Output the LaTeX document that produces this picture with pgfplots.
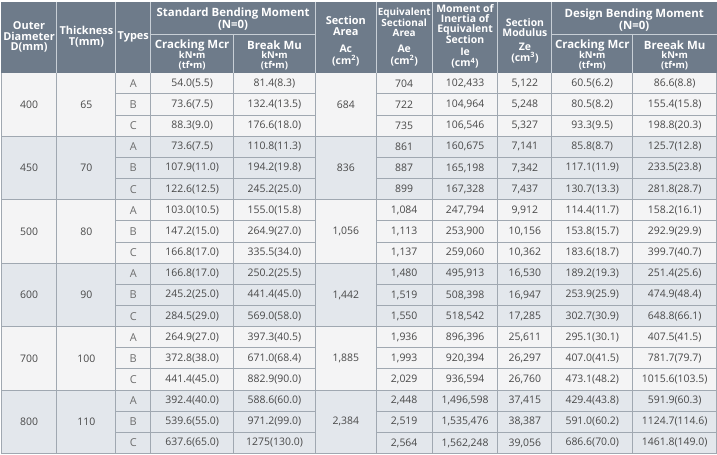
\documentclass[border=0pt]{standalone}
\usepackage{fontspec}
\setmainfont{Open Sans}
\usepackage{pgfplots}
\usepackage{pgfplotstable}
\pgfplotsset{compat=1.18}

\definecolor{hdr}{RGB}{110,123,138}
\definecolor{hdrline}{RGB}{200,207,214}
\definecolor{gridc}{RGB}{160,168,177}
\definecolor{rowlight}{RGB}{244,244,245}
\definecolor{rowdark}{RGB}{227,231,236}
\definecolor{txt}{RGB}{72,72,72}

% rows: y centre, type, standard Mcr/Mu, Ae, Ie, Ze, design Mcr/Mu
\pgfplotstableread{
y type mcr mu ae ie ze dmcr dmu
83.6 A 54.0(5.5) 81.4(8.3) 704 102,433 5,122 60.5(6.2) 86.6(8.8)
104.8 B 73.6(7.5) 132.4(13.5) 722 104,964 5,248 80.5(8.2) 155.4(15.8)
126.0 C 88.3(9.0) 176.6(18.0) 735 106,546 5,327 93.3(9.5) 198.8(20.3)
147.2 A 73.6(7.5) 110.8(11.3) 861 160,675 7,141 85.8(8.7) 125.7(12.8)
168.4 B 107.9(11.0) 194.2(19.8) 887 165,198 7,342 117.1(11.9) 233.5(23.8)
189.6 C 122.6(12.5) 245.2(25.0) 899 167,328 7,437 130.7(13.3) 281.8(28.7)
210.8 A 103.0(10.5) 155.0(15.8) 1,084 247,794 9,912 114.4(11.7) 158.2(16.1)
232.0 B 147.2(15.0) 264.9(27.0) 1,113 253,900 10,156 153.8(15.7) 292.9(29.9)
253.2 C 166.8(17.0) 335.5(34.0) 1,137 259,060 10,362 183.6(18.7) 399.7(40.7)
274.4 A 166.8(17.0) 250.2(25.5) 1,480 495,913 16,530 189.2(19.3) 251.4(25.6)
295.6 B 245.2(25.0) 441.4(45.0) 1,519 508,398 16,947 253.9(25.9) 474.9(48.4)
316.8 C 284.5(29.0) 569.0(58.0) 1,550 518,542 17,285 302.7(30.9) 648.8(66.1)
338.0 A 264.9(27.0) 397.3(40.5) 1,936 896,396 25,611 295.1(30.1) 407.5(41.5)
359.2 B 372.8(38.0) 671.0(68.4) 1,993 920,394 26,297 407.0(41.5) 781.7(79.7)
380.4 C 441.4(45.0) 882.9(90.0) 2,029 936,594 26,760 473.1(48.2) 1015.6(103.5)
401.6 A 392.4(40.0) 588.6(60.0) 2,448 1,496,598 37,415 429.4(43.8) 591.9(60.3)
422.8 B 539.6(55.0) 971.2(99.0) 2,519 1,535,476 38,387 591.0(60.2) 1124.7(114.6)
444.0 C 637.6(65.0) 1275(130.0) 2,564 1,562,248 39,056 686.6(70.0) 1461.8(149.0)
}\rows

% merged cells, one per diameter group
\pgfplotstableread{
y d t ac
104.8 400 65 684
168.4 450 70 836
232.0 500 80 1,056
295.6 600 90 1,442
359.2 700 100 1,885
422.8 800 110 2,384
}\groups

\pgfplotsset{
  cell/.style={only marks, mark=*, mark size=0pt,
    mark options={draw=none, fill=none},
    point meta=explicit symbolic, nodes near coords,
    every node near coord/.append style={anchor=center, text=txt,
      font=\fontsize{10.5}{12}\selectfont}},
}
\tikzset{hd/.style={text=white, align=center, anchor=center}}

\begin{document}
\begin{tikzpicture}
\begin{axis}[
  width=717bp, height=456bp, scale only axis,
  xmin=0, xmax=717, ymin=0, ymax=456, y dir=reverse,
  axis lines=none, ticks=none, clip=false,
]
% backgrounds
\addplot[fill=white, draw=none] coordinates {(0,0) (717,0) (717,456) (0,456)} -- cycle;
\addplot[fill=hdr, draw=none] coordinates {(0,2) (717,2) (717,73) (0,73)} -- cycle;
\addplot[fill=rowlight, draw=none] coordinates {(0,73) (717,73) (717,136.6) (0,136.6)} -- cycle;
\addplot[fill=rowdark, draw=none] coordinates {(0,136.6) (717,136.6) (717,200.2) (0,200.2)} -- cycle;
\addplot[fill=rowlight, draw=none] coordinates {(0,200.2) (717,200.2) (717,263.8) (0,263.8)} -- cycle;
\addplot[fill=rowdark, draw=none] coordinates {(0,263.8) (717,263.8) (717,327.4) (0,327.4)} -- cycle;
\addplot[fill=rowlight, draw=none] coordinates {(0,327.4) (717,327.4) (717,391) (0,391)} -- cycle;
\addplot[fill=rowdark, draw=none] coordinates {(0,391) (717,391) (717,454.6) (0,454.6)} -- cycle;

% header dividers
\addplot[hdrline, line width=1bp, unbounded coords=jump] coordinates {
  (56,2) (56,73) (56,nan)
  (115,2) (115,73) (115,nan)
  (150,2) (150,73) (150,nan)
  (315,2) (315,73) (315,nan)
  (376,2) (376,73) (376,nan)
  (432,2) (432,73) (432,nan)
  (498,2) (498,73) (498,nan)
  (552,2) (552,73) (552,nan)
  (233,35) (233,73) (233,nan)
  (633,35) (633,73) (633,nan)
  (150,35) (315,35) (315,nan)
  (552,35) (717,35)
};

% body grid
\addplot[gridc, line width=1bp, unbounded coords=jump] coordinates {
  (0.5,73) (0.5,454.6) (0.5,nan)
  (716.5,73) (716.5,454.6) (716.5,nan)
  (56,73) (56,454.6) (56,nan)
  (115,73) (115,454.6) (115,nan)
  (150,73) (150,454.6) (150,nan)
  (233,73) (233,454.6) (233,nan)
  (315,73) (315,454.6) (315,nan)
  (376,73) (376,454.6) (376,nan)
  (432,73) (432,454.6) (432,nan)
  (498,73) (498,454.6) (498,nan)
  (552,73) (552,454.6) (552,nan)
  (633,73) (633,454.6) (633,nan)
  (0,136.6) (717,136.6) (717,nan)
  (0,200.2) (717,200.2) (717,nan)
  (0,263.8) (717,263.8) (717,nan)
  (0,327.4) (717,327.4) (717,nan)
  (0,391) (717,391) (717,nan)
  (0,454.6) (717,454.6) (717,nan)
  (115,94.2) (315,94.2) (315,nan) (376,94.2) (717,94.2) (717,nan)
  (115,115.4) (315,115.4) (315,nan) (376,115.4) (717,115.4) (717,nan)
  (115,157.8) (315,157.8) (315,nan) (376,157.8) (717,157.8) (717,nan)
  (115,179.0) (315,179.0) (315,nan) (376,179.0) (717,179.0) (717,nan)
  (115,221.4) (315,221.4) (315,nan) (376,221.4) (717,221.4) (717,nan)
  (115,242.6) (315,242.6) (315,nan) (376,242.6) (717,242.6) (717,nan)
  (115,285.0) (315,285.0) (315,nan) (376,285.0) (717,285.0) (717,nan)
  (115,306.2) (315,306.2) (315,nan) (376,306.2) (717,306.2) (717,nan)
  (115,348.6) (315,348.6) (315,nan) (376,348.6) (717,348.6) (717,nan)
  (115,369.8) (315,369.8) (315,nan) (376,369.8) (717,369.8) (717,nan)
  (115,412.2) (315,412.2) (315,nan) (376,412.2) (717,412.2) (717,nan)
  (115,433.4) (315,433.4) (315,nan) (376,433.4) (717,433.4)
};

% cell values
\addplot[cell] table[x expr=28, y=y, meta=d] {\groups};
\addplot[cell] table[x expr=85.5, y=y, meta=t] {\groups};
\addplot[cell] table[x expr=345.5, y=y, meta=ac] {\groups};
\addplot[cell, every node near coord/.append style={text=txt!80, font=\fontsize{11}{12}\selectfont}] table[x expr=132.5, y=y, meta=type] {\rows};
\addplot[cell] table[x expr=191.5, y=y, meta=mcr] {\rows};
\addplot[cell] table[x expr=274, y=y, meta=mu] {\rows};
\addplot[cell] table[x expr=404, y=y, meta=ae] {\rows};
\addplot[cell] table[x expr=465, y=y, meta=ie] {\rows};
\addplot[cell] table[x expr=525, y=y, meta=ze] {\rows};
\addplot[cell] table[x expr=592.5, y=y, meta=dmcr] {\rows};
\addplot[cell] table[x expr=675, y=y, meta=dmu] {\rows};

% header text
\node[hd, font=\bfseries\fontsize{11}{11}\selectfont] at (axis cs:28,37) {Outer\\Diameter\\D(mm)};
\node[hd, font=\bfseries\fontsize{11}{11}\selectfont] at (axis cs:85.5,37) {Thickness\\T(mm)};
\node[hd, font=\bfseries\fontsize{11}{11}\selectfont] at (axis cs:132.5,37) {Types};
\node[hd, font=\bfseries\fontsize{11.5}{12}\selectfont] at (axis cs:232.5,19) {Standard Bending Moment\\(N=0)};
\node[hd, font=\bfseries\fontsize{11.5}{12}\selectfont] at (axis cs:634.5,20) {Design Bending Moment\\(N=0)};
\node[hd, font=\bfseries\fontsize{11.5}{12}\selectfont] at (axis cs:191.5,45.5) {Cracking Mcr};
\node[hd, font=\bfseries\fontsize{11.5}{12}\selectfont] at (axis cs:274,45.5) {Break Mu};
\node[hd, font=\bfseries\fontsize{11.5}{12}\selectfont] at (axis cs:592.5,45.5) {Cracking Mcr};
\node[hd, font=\bfseries\fontsize{11.5}{12}\selectfont] at (axis cs:675,45.5) {Breeak Mu};
\node[hd, font=\bfseries\fontsize{9.5}{9.5}\selectfont] at (axis cs:191.5,61) {kN•m\\(tf•m)};
\node[hd, font=\bfseries\fontsize{9.5}{9.5}\selectfont] at (axis cs:274,61) {kN•m\\(tf•m)};
\node[hd, font=\bfseries\fontsize{9.5}{9.5}\selectfont] at (axis cs:592.5,61) {kN•m\\(tf•m)};
\node[hd, font=\bfseries\fontsize{9.5}{9.5}\selectfont] at (axis cs:675,61) {kN•m\\(tf•m)};
\node[hd, font=\bfseries\fontsize{11}{10.5}\selectfont] at (axis cs:345.5,26) {Section\\Area};
\node[hd, font=\bfseries\fontsize{10.5}{11.5}\selectfont] at (axis cs:345.5,55.5) {Ac\\(cm\textsuperscript{2})};
\node[hd, font=\bfseries\fontsize{10}{9.5}\selectfont] at (axis cs:404,22.5) {Equivalent\\Sectional\\Area};
\node[hd, font=\bfseries\fontsize{10.5}{11.5}\selectfont] at (axis cs:404,55.5) {Ae\\(cm\textsuperscript{2})};
\node[hd, font=\bfseries\fontsize{10.5}{10}\selectfont] at (axis cs:465,24) {Moment of\\Inertia of\\Equivalent\\Section};
\node[hd, font=\bfseries\fontsize{10.5}{11.5}\selectfont] at (axis cs:465,58.5) {Ie\\(cm\textsuperscript{4})};
\node[hd, font=\bfseries\fontsize{10.5}{10.5}\selectfont] at (axis cs:525,27.5) {Section\\Modulus};
\node[hd, font=\bfseries\fontsize{10.5}{11.5}\selectfont] at (axis cs:525,53) {Ze\\(cm\textsuperscript{3})};
\end{axis}
\end{tikzpicture}
\end{document}
